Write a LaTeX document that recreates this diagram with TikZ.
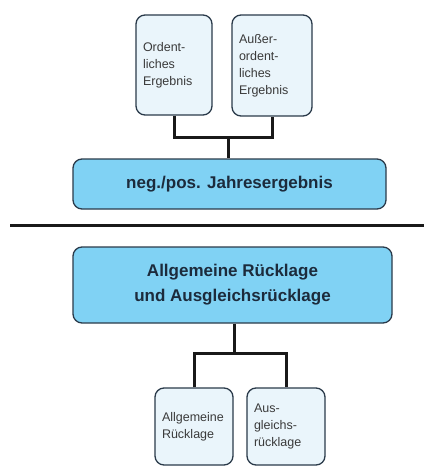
\documentclass[tikz,border=0pt]{standalone}
\usepackage{fontspec}
\setmainfont{Liberation Sans}
\definecolor{boxblue}{HTML}{80D2F4}
\definecolor{paleblue}{HTML}{EAF5FB}
\definecolor{edgecol}{HTML}{2A3A4A}
\definecolor{navytext}{HTML}{1C2B3C}
\definecolor{graytext}{HTML}{3A3A3A}
\begin{document}
\begin{tikzpicture}[x=1pt,y=-1pt,
  smallbox/.style={draw=edgecol, line width=1.3pt, fill=paleblue, rounded corners=9pt,
    align=left, inner xsep=7pt, inner ysep=0pt, text=graytext,
    font=\fontsize{12.5}{17}\selectfont},
  bigbox/.style={draw=edgecol, line width=1.3pt, fill=boxblue, rounded corners=9pt,
    align=center, inner sep=0pt, text=navytext,
    font=\fontsize{17}{25}\selectfont\bfseries},
  conn/.style={line width=3pt, draw=black!90}]
\useasboundingbox (0,0) rectangle (424,468);
% top boxes
\node[smallbox, minimum width=76pt, minimum height=100pt, text width=62pt] (tl) at (174,65) {Ordent-\\liches\\Ergebnis};
\node[smallbox, minimum width=80pt, minimum height=101pt, text width=66pt] (tr) at (272,65.5) {Außer-\\ordent-\\liches\\Ergebnis};
% middle box
\node[bigbox, minimum width=313pt, minimum height=50pt] (mid) at (229.5,184) {neg./pos. Jahresergebnis};
% divider
\coordinate (dl) at (10,225);
\coordinate (dr) at (424,225);
% big box
\node[bigbox, minimum width=319pt, minimum height=76pt] (big) at (232.5,285) {Allgemeine Rücklage\\und Ausgleichsrücklage};
% bottom boxes
\node[smallbox, minimum width=78pt, minimum height=77pt, text width=64pt] (bl) at (194,426.5) {Allgemeine\\Rücklage};
\node[smallbox, minimum width=78pt, minimum height=77pt, text width=64pt] (br) at (286,426.5) {Aus-\\gleichs-\\rücklage};
% junctions
\coordinate (j1) at (228,137);
\coordinate (j2) at (234,353);
% connectors
\draw[conn] (tl.south) |- (j1) -| (tr.south);
\draw[conn] (j1) -- (j1 |- mid.north);
\draw[conn] (dl) -- (dr);
\draw[conn] (j2 |- big.south) -- (j2);
\draw[conn] (bl.north) |- (j2) -| (br.north);
\end{tikzpicture}
\end{document}
